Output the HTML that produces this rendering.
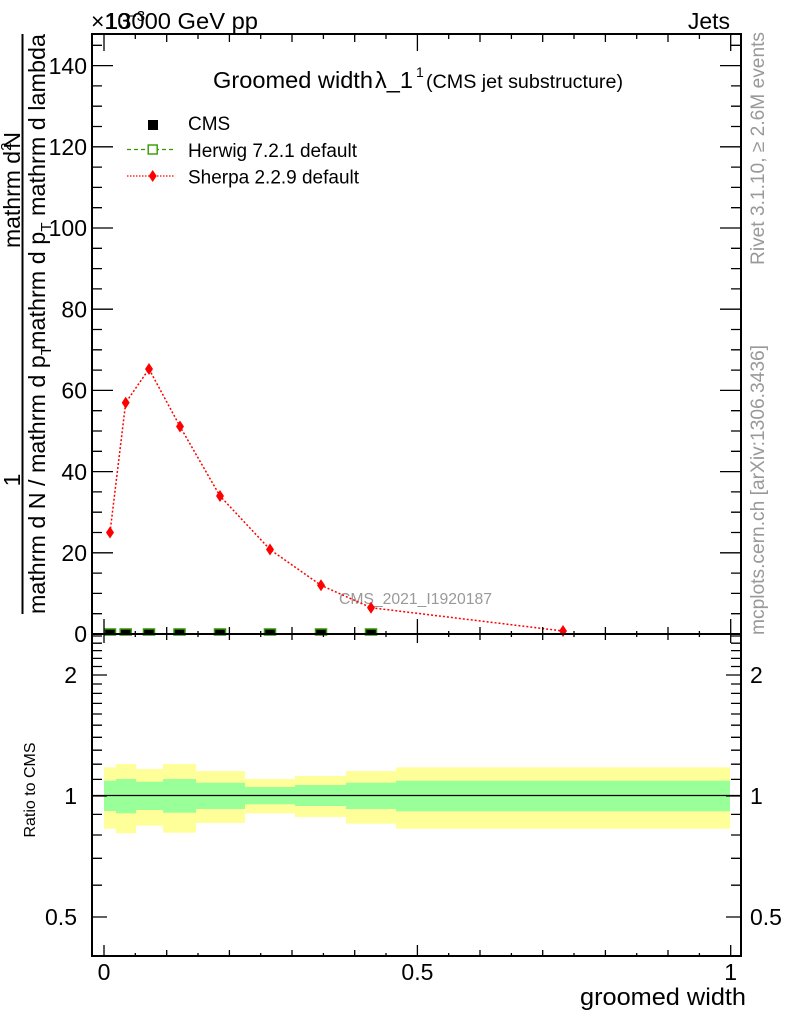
<!DOCTYPE html>
<html><head><meta charset="utf-8"><style>
html,body{margin:0;padding:0;background:#fff;}
svg{display:block;font-family:"Liberation Sans",Arial,sans-serif;}
</style></head><body>
<svg width="786" height="1024" viewBox="0 0 786 1024" xmlns="http://www.w3.org/2000/svg">
<rect width="786" height="1024" fill="#fff"/>

<!-- top labels -->
<text x="91" y="29" font-size="23">×10</text>
<text x="128" y="21" font-size="15">−3</text>
<text x="105" y="29" font-size="23" textLength="153" lengthAdjust="spacingAndGlyphs">13000 GeV pp</text>
<text x="730" y="29" font-size="23" text-anchor="end">Jets</text>

<!-- title -->
<text x="213" y="88" font-size="23.5" textLength="160" lengthAdjust="spacingAndGlyphs">Groomed width</text>
<text x="375" y="88" font-size="23.5">λ_1</text>
<text x="416" y="77" font-size="14">1</text>
<text x="426" y="88" font-size="19" textLength="197" lengthAdjust="spacingAndGlyphs">(CMS jet substructure)</text>

<!-- legend -->
<rect x="148" y="120" width="10" height="10" fill="#000"/>
<text x="188" y="130" font-size="19">CMS</text>
<line x1="127" y1="149.5" x2="175" y2="149.5" stroke="#339900" stroke-width="1.3" stroke-dasharray="4,3"/>
<rect x="148.2" y="145" width="9" height="9" fill="#fff" stroke="#339900" stroke-width="1.4"/>
<text x="188" y="157" font-size="19" textLength="169" lengthAdjust="spacingAndGlyphs">Herwig 7.2.1 default</text>
<line x1="127" y1="176" x2="175" y2="176" stroke="#ff0000" stroke-width="1.3" stroke-dasharray="1.5,1.5"/>
<polygon points="152.7,170 156.7,176 152.7,182 148.7,176" fill="#ff0000"/>
<text x="188" y="183.5" font-size="19" textLength="171" lengthAdjust="spacingAndGlyphs">Sherpa 2.2.9 default</text>

<!-- analysis label -->
<text x="339" y="604" font-size="16" fill="#999" textLength="153" lengthAdjust="spacingAndGlyphs">CMS_2021_I1920187</text>

<!-- Sherpa curve -->
<polyline points="110,532.5 125.7,402.7 149,369 180,426.5 220,496 270,549.5 321,585.3 371,607.7 563,631" fill="none" stroke="#ff0000" stroke-width="1.5" stroke-dasharray="2,2"/>
<g fill="#ff0000">
<polygon points="110,526.5 114,532.5 110,538.5 106,532.5"/>
<polygon points="125.7,396.7 129.7,402.7 125.7,408.7 121.7,402.7"/>
<polygon points="149,363 153,369 149,375 145,369"/>
<polygon points="180,420.5 184,426.5 180,432.5 176,426.5"/>
<polygon points="220,490 224,496 220,502 216,496"/>
<polygon points="270,543.5 274,549.5 270,555.5 266,549.5"/>
<polygon points="321,579.3 325,585.3 321,591.3 317,585.3"/>
<polygon points="371,601.7 375,607.7 371,613.7 367,607.7"/>
<polygon points="563,625 567,631 563,637 559,631"/>
</g>

<!-- CMS data points (near zero) -->
<g fill="#000" stroke="#339900" stroke-width="1.5">
<rect x="104.5" y="629" width="11" height="6"/>
<rect x="120.2" y="629" width="11" height="6"/>
<rect x="143.5" y="629" width="11" height="6"/>
<rect x="174" y="629" width="11" height="6"/>
<rect x="214.5" y="629" width="11" height="6"/>
<rect x="264.5" y="629" width="11" height="6"/>
<rect x="315.5" y="629" width="11" height="6"/>
<rect x="365.5" y="629" width="11" height="6"/>
</g>

<!-- ratio bands -->
<g>
<rect x="104" y="767.3" width="12" height="61.4" fill="#ffff99"/>
<rect x="116" y="764" width="20" height="69.3" fill="#ffff99"/>
<rect x="136" y="769" width="27" height="56.7" fill="#ffff99"/>
<rect x="163" y="764" width="33" height="68.7" fill="#ffff99"/>
<rect x="196" y="771" width="49" height="52" fill="#ffff99"/>
<rect x="245" y="779" width="50" height="34.3" fill="#ffff99"/>
<rect x="295" y="776" width="51" height="41" fill="#ffff99"/>
<rect x="346" y="771" width="50" height="52.7" fill="#ffff99"/>
<rect x="396" y="767.3" width="334" height="61.4" fill="#ffff99"/>
<rect x="104" y="780.7" width="12" height="30.3" fill="#99ff99"/>
<rect x="116" y="779" width="20" height="34.3" fill="#99ff99"/>
<rect x="136" y="781.7" width="27" height="28.3" fill="#99ff99"/>
<rect x="163" y="779" width="33" height="33.7" fill="#99ff99"/>
<rect x="196" y="782.7" width="49" height="26.3" fill="#99ff99"/>
<rect x="245" y="787" width="50" height="17.3" fill="#99ff99"/>
<rect x="295" y="785" width="51" height="21" fill="#99ff99"/>
<rect x="346" y="782.7" width="50" height="26.3" fill="#99ff99"/>
<rect x="396" y="780.7" width="334" height="30.6" fill="#99ff99"/>
</g>
<line x1="92" y1="795.5" x2="741" y2="795.5" stroke="#000" stroke-width="1.2"/>

<!-- ticks -->
<g stroke="#000" stroke-width="1.3">
<path d="M92 634H113M92 552.8H113M92 471.6H113M92 390.4H113M92 309.2H113M92 228H113M92 146.8H113M92 65.6H113
M741 634H720M741 552.8H720M741 471.6H720M741 390.4H720M741 309.2H720M741 228H720M741 146.8H720M741 65.6H720"/>
<path d="M92 613.7H102M92 593.4H102M92 573.1H102M92 532.5H102M92 512.2H102M92 491.9H102M92 451.3H102M92 431H102M92 410.7H102M92 370.1H102M92 349.8H102M92 329.5H102M92 288.9H102M92 268.6H102M92 248.3H102M92 207.7H102M92 187.4H102M92 167.1H102M92 126.5H102M92 106.2H102M92 85.9H102M92 45.3H102
M741 613.7H731M741 593.4H731M741 573.1H731M741 532.5H731M741 512.2H731M741 491.9H731M741 451.3H731M741 431H731M741 410.7H731M741 370.1H731M741 349.8H731M741 329.5H731M741 288.9H731M741 268.6H731M741 248.3H731M741 207.7H731M741 187.4H731M741 167.1H731M741 126.5H731M741 106.2H731M741 85.9H731M741 45.3H731"/>
<path d="M104 34V51M417.4 34V51M730.7 34V51
M166.7 34V42M229.4 34V42M292 34V42M354.7 34V42M480 34V42M542.7 34V42M605.4 34V42M668 34V42
M135.3 34V39M198 34V39M260.7 34V39M323.4 34V39M386 34V39M448.7 34V39M511.4 34V39M574 34V39M636.7 34V39M699.4 34V39"/>
<path d="M104 634V619M417.4 634V619M730.7 634V619
M166.7 634V627M229.4 634V627M292 634V627M354.7 634V627M480 634V627M542.7 634V627M605.4 634V627M668 634V627
M135.3 634V631M198 634V631M260.7 634V631M323.4 634V631M386 634V631M448.7 634V631M511.4 634V631M574 634V631M636.7 634V631M699.4 634V631"/>
<path d="M104 634V643M417.4 634V643M730.7 634V643
M166.7 634V640M229.4 634V640M292 634V640M354.7 634V640M480 634V640M542.7 634V640M605.4 634V640M668 634V640
M135.3 634V637M198 634V637M260.7 634V637M323.4 634V637M386 634V637M448.7 634V637M511.4 634V637M574 634V637M636.7 634V637M699.4 634V637"/>
<path d="M104 956V945M417.4 956V945M730.7 956V945
M166.7 956V950M229.4 956V950M292 956V950M354.7 956V950M480 956V950M542.7 956V950M605.4 956V950M668 956V950
M135.3 956V953M198 956V953M260.7 956V953M323.4 956V953M386 956V953M448.7 956V953M511.4 956V953M574 956V953M636.7 956V953M699.4 956V953"/>
<path d="M92 917H107M92 796H107M92 675H107M741 917H726M741 796H726M741 675H726"/>
<path d="M92 885.2H102M92 858.3H102M92 835H102M92 814.4H102M92 779.4H102M92 764.2H102M92 750.2H102M92 737.3H102M92 725.2H102M92 714H102M92 703.4H102M92 693.4H102M92 684H102M92 666.5H102M92 658.4H102M92 650.6H102M92 643.2H102M92 636H102
M741 885.2H731M741 858.3H731M741 835H731M741 814.4H731M741 779.4H731M741 764.2H731M741 750.2H731M741 737.3H731M741 725.2H731M741 714H731M741 703.4H731M741 693.4H731M741 684H731M741 666.5H731M741 658.4H731M741 650.6H731M741 643.2H731M741 636H731"/>
</g>

<!-- frames -->
<rect x="92" y="34" width="649" height="600" fill="none" stroke="#000" stroke-width="2"/>
<rect x="92" y="634" width="649" height="322" fill="none" stroke="#000" stroke-width="2"/>

<!-- main y tick labels -->
<g font-size="23" text-anchor="end">
<text x="87" y="642">0</text>
<text x="87" y="561">20</text>
<text x="87" y="480">40</text>
<text x="87" y="398.5">60</text>
<text x="87" y="317.5">80</text>
<text x="87" y="236">100</text>
<text x="87" y="155">120</text>
<text x="87" y="74">140</text>
</g>

<!-- ratio y labels -->
<g font-size="23">
<text x="77" y="683" text-anchor="end">2</text>
<text x="77" y="804" text-anchor="end">1</text>
<text x="77" y="925" text-anchor="end">0.5</text>
<text x="750" y="683">2</text>
<text x="750" y="804">1</text>
<text x="750" y="925">0.5</text>
</g>

<!-- x labels -->
<g font-size="23" text-anchor="middle">
<text x="104" y="980">0</text>
<text x="417.4" y="980">0.5</text>
<text x="730.7" y="980">1</text>
</g>
<text x="746" y="1005" font-size="24" text-anchor="end" textLength="166" lengthAdjust="spacingAndGlyphs">groomed width</text>

<!-- ratio y title -->
<text transform="translate(35,790) rotate(-90)" font-size="16" text-anchor="middle" textLength="95" lengthAdjust="spacingAndGlyphs">Ratio to CMS</text>

<!-- main y title -->
<text transform="translate(20,190) rotate(-90)" font-size="23" text-anchor="middle">mathrm d<tspan font-size="15" dy="-9">2</tspan><tspan dy="9" dx="-6">N</tspan></text>
<text transform="translate(20,480) rotate(-90)" font-size="23" text-anchor="middle">1</text>
<line x1="22.5" y1="34" x2="22.5" y2="614" stroke="#000" stroke-width="2"/>
<text transform="translate(45,614) rotate(-90)" font-size="23" textLength="268" lengthAdjust="spacingAndGlyphs">mathrm d N / mathrm d p<tspan font-size="15" dy="6">T</tspan></text>
<text transform="translate(45,350) rotate(-90)" font-size="23" textLength="316" lengthAdjust="spacingAndGlyphs">mathrm d p<tspan font-size="15" dy="6">T</tspan><tspan dy="-6"> mathrm d lambda</tspan></text>

<!-- right side labels -->
<text transform="translate(764,265) rotate(-90)" font-size="19" fill="#999" textLength="233" lengthAdjust="spacingAndGlyphs">Rivet 3.1.10, ≥ 2.6M events</text>
<text transform="translate(764,635) rotate(-90)" font-size="19" fill="#999" textLength="290" lengthAdjust="spacingAndGlyphs">mcplots.cern.ch [arXiv:1306.3436]</text>
</svg>
</body></html>
